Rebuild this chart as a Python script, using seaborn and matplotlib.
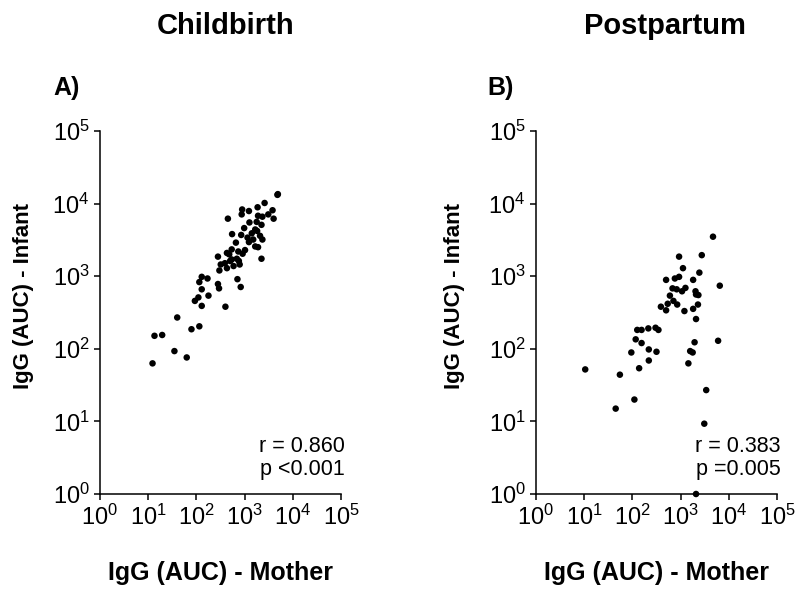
import numpy as np
import pandas as pd
import matplotlib
matplotlib.use('Agg')
import matplotlib.pyplot as plt
import seaborn as sns

# Valores (AUC de IgG)
mother_birth = [4800, 4900, 2600, 1860, 890, 1230, 870, 3800, 3100, 4000,
                450, 1900, 2340, 1780, 1260, 2240, 550, 850, 980, 1660,
                1410, 1820, 2090, 2340, 1510, 660, 1150, 1230, 1660, 1900,
                1020, 910, 740, 540, 480, 430, 280, 2240, 690, 540,
                500, 390, 320, 300, 430, 590, 790, 760, 129, 170,
                115, 710, 280, 295, 830, 129, 178, 110, 93, 129,
                400, 40, 115, 79, 13.5, 19.5, 35, 63, 12.3]
infant_birth = [13200, 13500, 10200, 8900, 8300, 7900, 7100, 8100, 7100, 6200,
                6200, 6800, 6600, 5600, 5500, 5100, 3800, 3700, 4600, 4400,
                3900, 4200, 3600, 3200, 3200, 2900, 3400, 2950, 2570, 2510,
                2290, 2040, 2190, 2340, 2000, 2090, 1860, 1740, 1740, 1700,
                1620, 1510, 1450, 1200, 1290, 1380, 1450, 1620, 980, 930,
                830, 910, 780, 680, 710, 660, 540, 510, 457, 390,
                380, 270, 204, 186, 151, 155, 93, 76, 63]

mother_post = [4700, 930, 2750, 1120, 2450, 500, 760, 930, 1820, 6500,
               680, 830, 1260, 1070, 2040, 2340, 600, 2090, 710, 850,
               540, 390, 500, 1200, 1820, 2290, 2090, 126, 155, 214,
               302, 347, 117, 155, 95, 219, 316, 1950, 1580, 1780,
               6000, 219, 1450, 10.5, 55, 138, 3400, 110, 45, 3100, 2090]
infant_post = [3500, 1860, 1950, 1290, 1120, 890, 930, 980, 890, 740,
               680, 660, 690, 620, 620, 550, 540, 560, 457, 407,
               417, 380, 339, 331, 355, 407, 257, 182, 182, 191,
               195, 182, 135, 120, 89, 98, 91, 123, 93, 89,
               129, 69, 63, 52, 44, 54, 27, 20, 15, 9.3, 1.0]

titles = ['Childbirth', 'Postpartum']
letters = ['A)', 'B)']
stats = ['r = 0.860\np <0.001', 'r = 0.383\np =0.005']

df_birth = pd.DataFrame({'mother': mother_birth, 'infant': infant_birth})
df_post = pd.DataFrame({'mother': mother_post, 'infant': infant_post})

sns.set_style('ticks')
plt.rcParams['font.family'] = ['Liberation Sans', 'DejaVu Sans']
plt.rcParams['axes.linewidth'] = 1.1
for key in ['text.color', 'axes.labelcolor', 'xtick.color', 'ytick.color']:
    plt.rcParams[key] = 'black'

fig = plt.figure(figsize=(7.98, 5.9), dpi=100)
lefts = [100 / 798, 536 / 798]
ylab_x = [-0.274, -0.295]
ax_w = 241 / 798
ax_b = (590 - 494) / 590
ax_h = 363 / 590

for i, data in enumerate([df_birth, df_post]):
    ax = fig.add_axes([lefts[i], ax_b, ax_w, ax_h])
    sns.scatterplot(data=data, x='mother', y='infant', ax=ax, color='black',
                    s=22, edgecolor='none', linewidth=0, clip_on=False, zorder=3)
    ax.set_xscale('log')
    ax.set_yscale('log')
    ax.set_xlim(1, 1e5)
    ax.set_ylim(1, 1e5)
    ax.set_xticks([10.0 ** k for k in range(6)])
    ax.set_yticks([10.0 ** k for k in range(6)])
    ax.minorticks_off()
    ax.tick_params(axis='both', labelsize=17, length=4, width=1.1, color='black')
    for sp in ['top', 'right']:
        ax.spines[sp].set_visible(False)
    for sp in ['left', 'bottom']:
        ax.spines[sp].set_color('black')
    ax.set_xlabel('IgG (AUC) - Mother', fontsize=18, fontweight='bold')
    ax.set_ylabel('IgG (AUC) - Infant', fontsize=16, fontweight='bold')
    ax.xaxis.set_label_coords(0.5, -0.185)
    ax.yaxis.set_label_coords(ylab_x[i], 0.545)
    ax.text(1.015, 0.16, stats[i], transform=ax.transAxes, ha='right', va='top',
            fontsize=15.5, linespacing=1.15)

fig.text(226 / 798, 1 - 26 / 590, titles[0], ha='center', va='center',
         fontsize=21, fontweight='bold')
fig.text(665 / 798, 1 - 26 / 590, titles[1], ha='center', va='center',
         fontsize=21, fontweight='bold')
fig.text(53 / 798, 1 - 88 / 590, letters[0], ha='left', va='center',
         fontsize=18, fontweight='bold')
fig.text(487 / 798, 1 - 88 / 590, letters[1], ha='left', va='center',
         fontsize=18, fontweight='bold')

fig.savefig('out.png', dpi=100)
